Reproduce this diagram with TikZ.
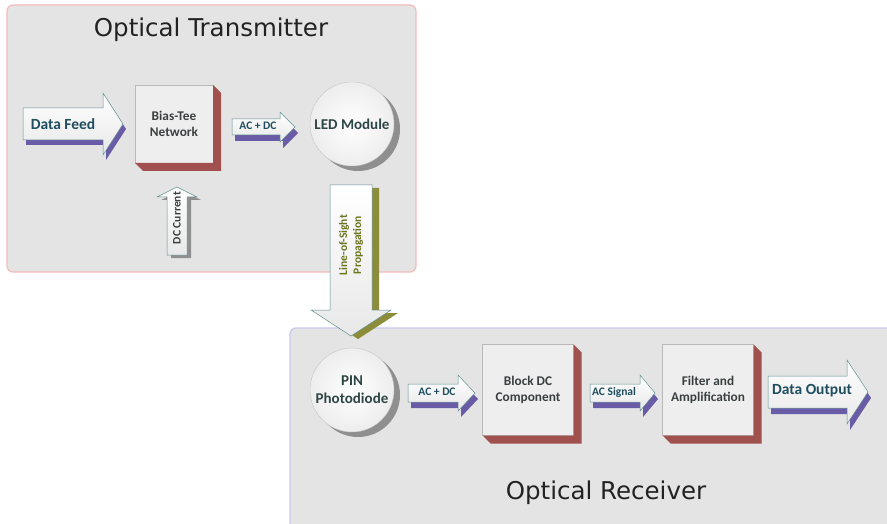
\documentclass[tikz,border=0pt]{standalone}
\usepackage{fontspec}
\setmainfont{Carlito}
\newfontfamily\titlefont{DejaVu Sans}
\usetikzlibrary{calc,shadows}
\definecolor{panelfill}{HTML}{E4E4E4}
\definecolor{txborder}{HTML}{F4BCBC}
\definecolor{rxborder}{HTML}{C9C9EE}
\definecolor{arrowpurple}{HTML}{6A5BA6}
\definecolor{boxred}{HTML}{A0504D}
\definecolor{tealtext}{HTML}{1F4E5F}
\definecolor{boxtext}{HTML}{3A4040}
\definecolor{circtext}{HTML}{2E4545}
\definecolor{oliveshadow}{HTML}{8C8C3A}
\definecolor{olivetext}{HTML}{6B7520}
\definecolor{circshadow}{HTML}{8F8F8F}
\definecolor{boxface}{HTML}{EEEEEE}
\definecolor{titletext}{HTML}{222222}
\definecolor{arrowedge}{HTML}{5F8F8F}
% horizontal right arrow: xl xh xt yc b h shadowcolor offset
\newcommand\rarrow[8]{%
  \fill[#7,shift={#8}] ({#1},{#4-#5}) -- ({#2},{#4-#5}) -- ({#2},{#4-#6}) -- ({#3},{#4}) -- ({#2},{#4+#6}) -- ({#2},{#4+#5}) -- ({#1},{#4+#5}) -- cycle;
  \shade[arrowface] ({#1},{#4-#5}) -- ({#2},{#4-#5}) -- ({#2},{#4-#6}) -- ({#3},{#4}) -- ({#2},{#4+#6}) -- ({#2},{#4+#5}) -- ({#1},{#4+#5}) -- cycle;}
% vertical arrow: xc ytail yheadbase ytip b h shadowcolor offset
\newcommand\varrow[8]{%
  \fill[#7,shift={#8}] ({#1-#5},{#2}) -- ({#1-#5},{#3}) -- ({#1-#6},{#3}) -- ({#1},{#4}) -- ({#1+#6},{#3}) -- ({#1+#5},{#3}) -- ({#1+#5},{#2}) -- cycle;
  \shade[arrowface] ({#1-#5},{#2}) -- ({#1-#5},{#3}) -- ({#1-#6},{#3}) -- ({#1},{#4}) -- ({#1+#6},{#3}) -- ({#1+#5},{#3}) -- ({#1+#5},{#2}) -- cycle;}
% 3D extrusion of a box node
\newcommand\extrude[2]{%
  \fill[boxred] (#1.north east) -- ++(#2,#2) -- ($(#1.south east)+(#2,#2)$) -- ($(#1.south west)+(#2,#2)$) -- (#1.south west) -- (#1.south east) -- cycle;}
\begin{document}
\begin{tikzpicture}[x=1pt,y=-1pt,
  panel/.style={fill=panelfill, line width=1.2pt, rounded corners=6pt},
  title/.style={font=\titlefont\fontsize{24.5}{28}\selectfont, text=titletext},
  arrowface/.style={top color=white, bottom color=gray!18, draw=arrowedge, line width=0.5pt},
  lbl/.style={font=\bfseries\fontsize{15.5}{18}\selectfont, text=tealtext, inner sep=0pt},
  slbl/.style={font=\bfseries\fontsize{11.5}{13}\selectfont, text=tealtext, inner sep=0pt},
  procbox/.style={draw=gray!55, fill=boxface, minimum width=#1, minimum height=#1, outer sep=0pt, align=center,
    font=\bfseries\fontsize{13.3}{16}\selectfont, text=boxtext, inner sep=2pt},
  circnode/.style={circle, draw=gray!45, inner color=white, outer color=gray!14, minimum size=84pt, outer sep=0pt,
    align=center, font=\bfseries\fontsize{15}{18}\selectfont, text=circtext, inner sep=1pt,
    drop shadow={shadow xshift=6pt, shadow yshift=-5pt, fill=circshadow, opacity=1}}]
\useasboundingbox (0,0) rectangle (887,524);
\fill[white] (0,0) rectangle (887,524);
% panels
\draw[panel, draw=txborder] (7,5) rectangle (416,272);
\node[title] (txtitle) at (211,30) {Optical Transmitter};
% transmitter content
\rarrow{23}{103}{123}{124}{16}{31}{arrowpurple}{(3,5)}
\node[lbl] (feed) at (63,124) {Data Feed};
\node[procbox=78pt] (bias) at (174,124) {Bias-Tee\\Network};
\extrude{bias}{8}
\rarrow{232}{280}{295}{127}{8}{15}{arrowpurple}{(3,6)}
\node[slbl] (acdc1) at (258,126) {AC + DC};
\node[circnode] (led) at (352,124) {LED Module};
\varrow{177}{255}{197}{187}{10}{20}{circshadow}{(4,3)}
\node[slbl, text=boxtext, rotate=90] (dccur) at (177,218) {DC Current};
% receiver panel
\draw[panel, draw=rxborder] (290,328) rectangle (895,540);
\node[title] (rxtitle) at (606,493) {Optical Receiver};
% line of sight arrow
\varrow{351}{185}{310}{336}{21}{40}{oliveshadow}{(7,3)}
\node[font=\bfseries\fontsize{11.5}{14}\selectfont, text=olivetext, rotate=90, align=center, inner sep=0pt] (los) at (351,245) {Line-of-Sight\\Propagation};
% receiver content
\node[circnode] (pin) at (352,390) {PIN\\Photodiode};
\rarrow{408}{458}{475}{393}{9}{18}{arrowpurple}{(3,6)}
\node[slbl] (acdc2) at (437,392) {AC + DC};
\node[procbox=91pt] (block) at (528,390) {Block DC\\Component};
\extrude{block}{8}
\rarrow{590}{640}{655}{393}{9}{18}{arrowpurple}{(3,6)}
\node[slbl] (acsig) at (614,392) {AC Signal};
\node[procbox=91pt] (filt) at (708,390) {Filter and\\Amplification};
\extrude{filt}{8}
\rarrow{768}{847}{868}{392}{16}{32}{arrowpurple}{(3,6)}
\node[lbl] (dout) at (812,391) {Data Output};
\end{tikzpicture}
\end{document}
